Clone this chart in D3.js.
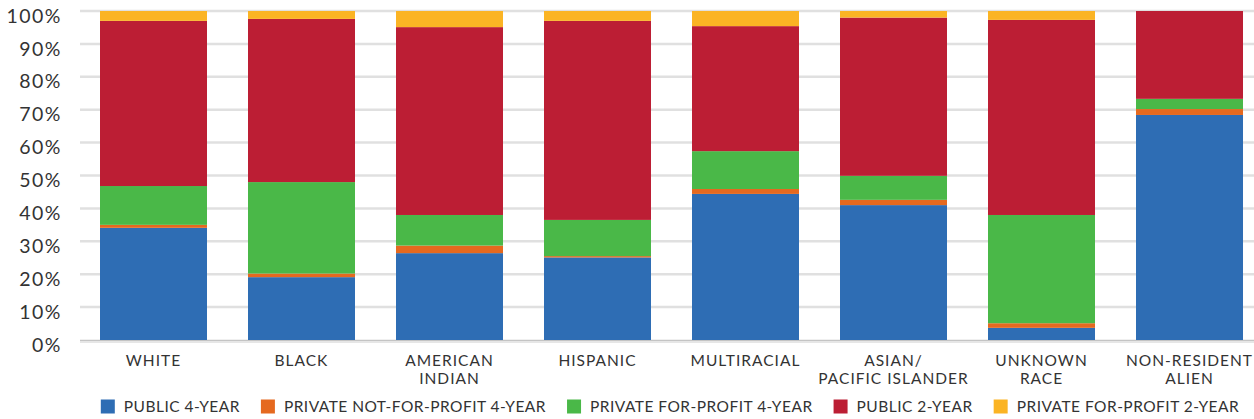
<!DOCTYPE html>
<html><head><meta charset="utf-8">
<script src="https://cdn.jsdelivr.net/npm/d3@7"></script>
<style>
body{margin:0;background:#fff;}
svg text{font-family:Lato, "Open Sans", sans-serif;fill:#333;}
</style></head>
<body><svg id="chart" width="1254" height="419"></svg>
<script>
const categories = ["WHITE","BLACK","AMERICAN\nINDIAN","HISPANIC","MULTIRACIAL","ASIAN/\nPACIFIC ISLANDER","UNKNOWN\nRACE","NON-RESIDENT\nALIEN"];
const seriesNames = ["PUBLIC 4-YEAR","PRIVATE NOT-FOR-PROFIT 4-YEAR","PRIVATE FOR-PROFIT 4-YEAR","PUBLIC 2-YEAR","PRIVATE FOR-PROFIT 2-YEAR"];
const public4 =        [34.1, 19.1, 26.4, 25.1, 44.4, 41.0,  3.7, 68.4];
const privateNFP4 =    [ 0.9,  1.1,  2.3,  0.4,  1.5,  1.6,  1.4,  1.8];
const privateFP4 =     [11.8, 27.8,  9.3, 11.0, 11.5,  7.3, 32.9,  3.1];
const public2 =        [50.2, 49.6, 57.1, 60.5, 38.0, 48.1, 59.3, 26.7];
const privateFP2 =     [ 3.0,  2.4,  4.9,  3.0,  4.6,  2.0,  2.7,  0.0];
const yTicks = [0,10,20,30,40,50,60,70,80,90,100];
const colors = ["#2e6db4","#e5691f","#4ab848","#bc1e34","#fbb424"];

const seriesValues = [public4, privateNFP4, privateFP4, public2, privateFP2];
const rows = categories.map((c,i)=>{const r={cat:c}; seriesNames.forEach((s,j)=>r[s]=seriesValues[j][i]); return r;});
const stack = d3.stack().keys(seriesNames)(rows);

const svg = d3.select("#chart");
const x = d3.scaleBand().domain(categories).range([79.5,1263.5]).paddingInner(41/148).paddingOuter(0.1385);
const y = d3.scaleLinear().domain([0,100]).range([340,11]);

// grid
svg.append("g").selectAll("line").data(yTicks.filter(t=>t>0)).join("line")
  .attr("x1",80).attr("x2",1254).attr("y1",d=>y(d)).attr("y2",d=>y(d))
  .attr("stroke","#e0e0e0").attr("stroke-width",2.5);
svg.append("line").attr("x1",80).attr("x2",1254).attr("y1",y(0)+0.5).attr("y2",y(0)+0.5)
  .attr("stroke","#c4c4c4").attr("stroke-width",1.5);
svg.append("line").attr("x1",80).attr("x2",1254).attr("y1",y(0)+2).attr("y2",y(0)+2)
  .attr("stroke","#e6e6e6").attr("stroke-width",2);

// y axis
const yAxis = d3.axisLeft(y).tickValues(yTicks).tickFormat(d=>d+"%").tickSize(0).tickPadding(0);
const ga = svg.append("g").attr("transform","translate(62,0)").call(yAxis);
ga.select(".domain").remove();
ga.selectAll("text").style("font-size","19.5px").style("letter-spacing","1.5px").attr("fill","#333").attr("dy","0.57em");

// bars
svg.append("g").selectAll("g").data(stack).join("g").attr("fill",(d,i)=>colors[i])
  .selectAll("rect").data(d=>d).join("rect")
  .attr("x",d=>x(d.data.cat)).attr("width",x.bandwidth())
  .attr("y",d=>y(d[1])).attr("height",d=>Math.max(0,y(d[0])-y(d[1])));

// x labels
const xl = svg.append("g").selectAll("text").data(categories).join("text")
  .attr("x",d=>x(d)+x.bandwidth()/2).attr("y",365.5)
  .attr("text-anchor","middle").style("font-size","15.5px").style("letter-spacing","1px");
xl.each(function(d){
  const t=d3.select(this);
  d.split("\n").forEach((line,i)=>t.append("tspan").attr("x",x(d)+x.bandwidth()/2).attr("dy",i?18.5:0).text(line));
});

// legend
const leg = svg.append("g");
const items = leg.selectAll("g").data(seriesNames).join("g");
items.append("rect").attr("width",14).attr("height",14).attr("y",-7).attr("fill",(d,i)=>colors[i]);
const lt = items.append("text").attr("x",23).attr("dy","0.36em").style("font-size","15.5px").style("letter-spacing","0px").attr("fill","#444").text(d=>d);
// fit legend to target span
const targetWidth = 1136, gap = 21, sw = 23;
let natural = 0, nchars = 0;
lt.each(function(d){natural += this.getComputedTextLength(); nchars += d.length - 1;});
const fixed = seriesNames.length*sw + (seriesNames.length-1)*gap;
const ls = Math.max(0,(targetWidth - fixed - natural)/nchars);
lt.style("letter-spacing", ls+"px");
let cx=0; const pos=[];
lt.each(function(d){const w=this.getComputedTextLength(); pos.push(cx); cx+=sw+w+gap;});
const total = cx-gap;
const start = 670 - total/2;
items.attr("transform",(d,i)=>`translate(${start+pos[i]},406.5)`);
</script></body></html>
